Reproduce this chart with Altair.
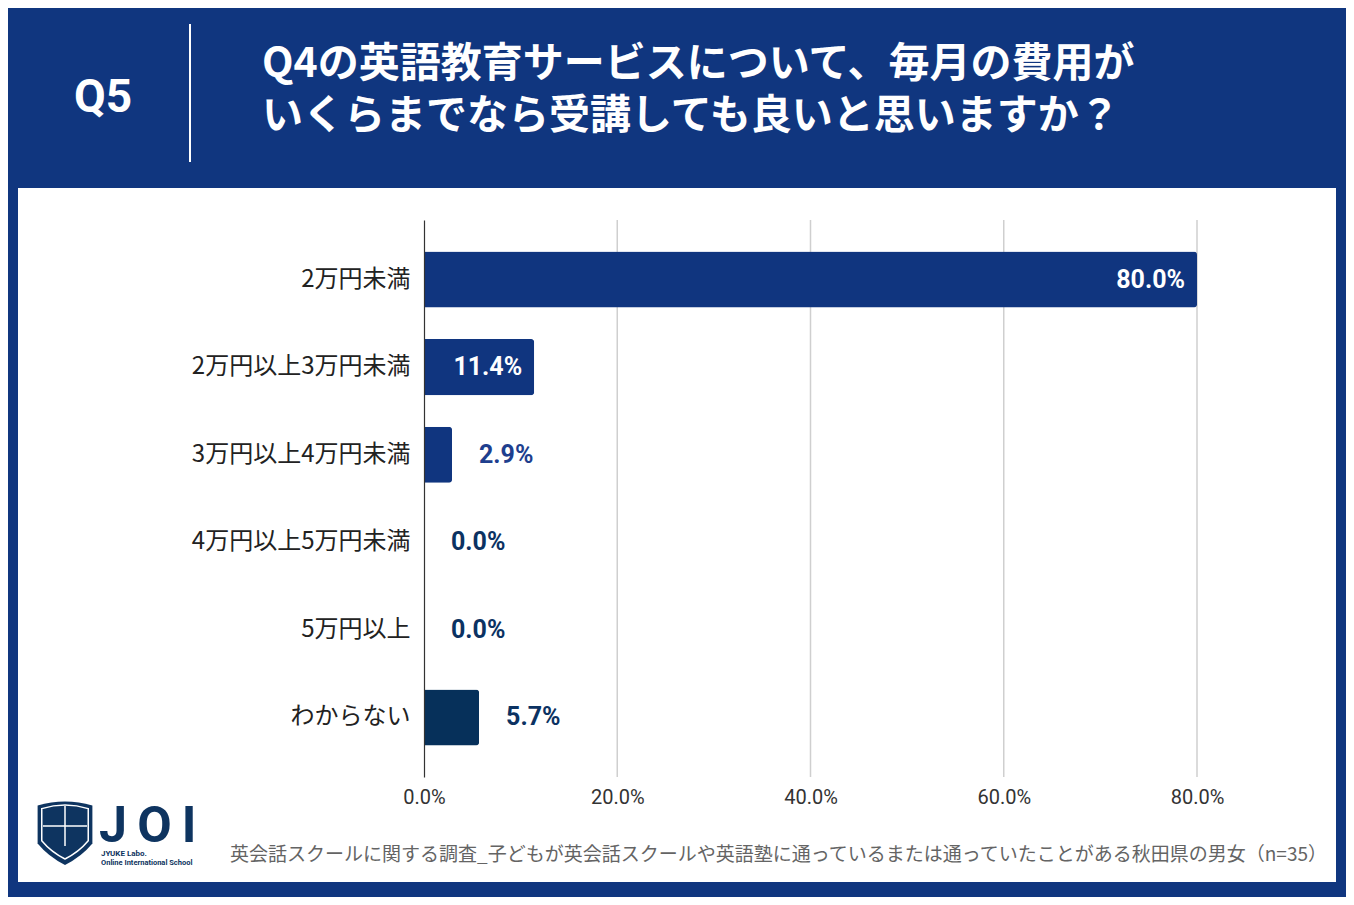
import altair as alt
import pandas as pd

# ---- data ----
categories = ["2万円未満", "2万円以上3万円未満", "3万円以上4万円未満",
              "4万円以上5万円未満", "5万円以上", "わからない"]
values = [80.0, 11.4, 2.9, 0.0, 0.0, 5.7]
tick_values = [0, 20, 40, 60, 80]
grid_values = [20, 40, 60, 80]

title_q = "Q5"
title_line1 = "Q4の英語教育サービスについて、毎月の費用が"
title_line2 = "いくらまでなら受講しても良いと思いますか？"
footer = "英会話スクールに関する調査_子どもが英会話スクールや英語塾に通っているまたは通っていたことがある秋田県の男女（n=35）"

# ---- styles ----
NAVY_BG = "#10367F"
BAR_NAVY = "#10357F"
BAR_DARK = "#06305A"
LOGO_NAVY = "#0E3460"
JP_FONT = "Noto Sans CJK JP"

W, H = 773, 557
# plot origin in page coordinates
OX, OY = 424, 220


def px(x):
    return x - OX


def py(y):
    return y - OY


df = pd.DataFrame({"cat": categories, "value": values})
df["label"] = [f"{v:.1f}%" for v in values]
grid_df = pd.DataFrame({"tick": grid_values})
one = pd.DataFrame({"k": [0]})

xscale = alt.Scale(domain=[0, 80], nice=False, zero=True)
yscale = alt.Scale(paddingInner=0.36, paddingOuter=0.36)

x_axis = alt.Axis(title=None, values=tick_values, grid=False,
                  ticks=False, domain=False, labelPadding=10,
                  labelFontSize=20, labelFont="Roboto", labelFlush=False,
                  labelColor="#333333", zindex=1,
                  labelExpr="format(datum.value, '.1f') + '%'")

panel = alt.Chart(one).mark_rect(color="white").encode(
    x=alt.value(px(18)), x2=alt.value(px(1336)),
    y=alt.value(py(188)), y2=alt.value(py(882)),
)

grid = alt.Chart(grid_df).mark_rule(color="#cfcfcf", strokeWidth=1.5).encode(
    x=alt.X("tick:Q", scale=xscale, axis=x_axis)
)

bars = alt.Chart(df).mark_bar(cornerRadiusEnd=3).encode(
    y=alt.Y("cat:N", sort=categories, scale=yscale,
            axis=alt.Axis(title=None, ticks=False, labelPadding=14,
                          labelFontSize=24, labelFont=JP_FONT,
                          labelColor="#222222", domainColor="#333333",
                          domainWidth=1.2, zindex=1, labelLimit=400)),
    x=alt.X("value:Q", scale=xscale, axis=x_axis),
    color=alt.condition("datum.cat === 'わからない'",
                        alt.value(BAR_DARK), alt.value(BAR_NAVY)),
)

inside = alt.Chart(df).transform_filter("datum.value >= 10").mark_text(
    align="right", baseline="middle", dx=-12, font="Roboto",
    fontWeight="bold", fontSize=25, color="white"
).encode(
    y=alt.Y("cat:N", sort=categories, scale=yscale),
    x=alt.X("value:Q", scale=xscale),
    text="label:N",
)

outside = alt.Chart(df).transform_filter("datum.value < 10").mark_text(
    align="left", baseline="middle", dx=27, font="Roboto",
    fontWeight="bold", fontSize=25
).encode(
    y=alt.Y("cat:N", sort=categories, scale=yscale),
    x=alt.X("value:Q", scale=xscale),
    text="label:N",
    color=alt.condition("datum.value > 0 && datum.cat !== 'わからない'",
                        alt.value("#1E3F8E"), alt.value("#0B3262")),
)

# ---- header ----
q5 = alt.Chart(one).mark_text(
    align="center", baseline="middle", font="Roboto", fontWeight="bold",
    fontSize=46, color="white"
).encode(x=alt.value(px(103)), y=alt.value(py(98)), text=alt.value(title_q))

divider = alt.Chart(one).mark_rule(color="white", strokeWidth=2).encode(
    x=alt.value(px(190)), y=alt.value(py(24)), y2=alt.value(py(162))
)

t1 = alt.Chart(one).mark_text(
    align="left", baseline="middle", font=JP_FONT, fontWeight="bold",
    fontSize=41, color="white"
).encode(x=alt.value(px(262)), y=alt.value(py(65)), text=alt.value(title_line1))

t2 = alt.Chart(one).mark_text(
    align="left", baseline="middle", font=JP_FONT, fontWeight="bold",
    fontSize=41, color="white"
).encode(x=alt.value(px(262)), y=alt.value(py(117)), text=alt.value(title_line2))

# ---- footer ----
foot = alt.Chart(one).mark_text(
    align="right", baseline="middle", font=JP_FONT, fontSize=19,
    color="#646464"
).encode(x=alt.value(px(1327)), y=alt.value(py(855)), text=alt.value(footer))

# ---- logo ----
SHIELD = "M-0.83,-0.8 Q0,-1.05 0.83,-0.8 L0.83,0.35 Q0.5,0.75 0,1 Q-0.5,0.75 -0.83,0.35 Z"
shield = alt.Chart(one).mark_point(
    shape=SHIELD, filled=True, fill=LOGO_NAVY, opacity=1, strokeWidth=0
).encode(x=alt.value(px(65)), y=alt.value(py(832)), size=alt.value(66 * 66))

shield_in = alt.Chart(one).mark_point(
    shape=SHIELD, filled=False, stroke="white", strokeWidth=1.5, opacity=1
).encode(x=alt.value(px(65)), y=alt.value(py(831)), size=alt.value(56 * 56))

cross_v = alt.Chart(one).mark_rule(color="white", strokeWidth=1.5).encode(
    x=alt.value(px(65)), y=alt.value(py(806)), y2=alt.value(py(846))
)
cross_h = alt.Chart(one).mark_rule(color="white", strokeWidth=1.5).encode(
    x=alt.value(px(43)), x2=alt.value(px(87)), y=alt.value(py(826))
)

joi = alt.Chart(one).mark_text(
    align="left", baseline="alphabetic", font="Roboto", fontWeight="bold",
    fontSize=50, color=LOGO_NAVY
).encode(x=alt.value(px(99)), y=alt.value(py(842)),
         text=alt.value("J\u2009O\u2009I"))

joi_s1 = alt.Chart(one).mark_text(
    align="left", baseline="middle", font="Roboto", fontWeight="bold",
    fontSize=8, color=LOGO_NAVY
).encode(x=alt.value(px(101)), y=alt.value(py(854)), text=alt.value("JYUKE Labo."))

joi_s2 = alt.Chart(one).mark_text(
    align="left", baseline="middle", font="Roboto", fontWeight="bold",
    fontSize=7.5, color=LOGO_NAVY
).encode(x=alt.value(px(101)), y=alt.value(py(863)),
         text=alt.value("Online International School"))

chart = alt.layer(
    panel, grid, bars, inside, outside,
    q5, divider, t1, t2, foot,
    shield, shield_in, cross_v, cross_h, joi, joi_s1, joi_s2,
).properties(
    width=W, height=H,
    autosize=alt.AutoSizeParams(type="none"),
    padding={"left": OX - 8, "top": OY - 8,
             "right": 1338 - (OX - 8) - W, "bottom": 889 - (OY - 8) - H},
).configure(background=NAVY_BG).configure_view(strokeWidth=0)

chart.save("out.html", embed_options={"renderer": "svg", "actions": False})
